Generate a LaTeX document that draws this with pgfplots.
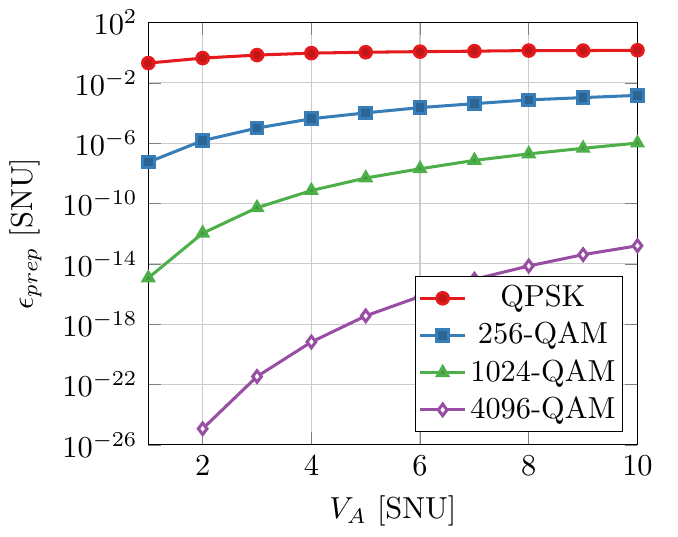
\documentclass[border=0pt]{standalone}
\usepackage{pgfplots}
\pgfplotsset{compat=1.18}
\definecolor{cred}{RGB}{228,26,28}
\definecolor{cblue}{RGB}{55,126,184}
\definecolor{cgreen}{RGB}{77,175,74}
\definecolor{cpurple}{RGB}{152,78,163}
\begin{document}
\begin{tikzpicture}
\begin{semilogyaxis}[
  scale only axis,
  width=161pt, height=139pt,
  xmin=1, xmax=10,
  ymin=1e-26, ymax=1e2,
  xtick={2,4,6,8,10},
  ytick={1e-26,1e-22,1e-18,1e-14,1e-10,1e-6,1e-2,1e2},
  grid=major,
  major grid style={gray!40},
  xlabel={$V_A$ [SNU]},
  ylabel={$\epsilon_{prep}$ [SNU]},
  legend pos=south east,
  legend cell align=center,
  legend style={inner sep=1pt, nodes={inner xsep=1.2pt, inner ysep=1.8pt}},
  every axis plot/.append style={line width=1pt, mark size=1.9pt,
    legend image code/.code={\draw[mark repeat=2,mark phase=2] plot coordinates {(0cm,0cm) (0.26cm,0cm) (0.52cm,0cm)};}},
]
\addplot[color=cred, mark=*, mark options={fill=cred!85!black}] coordinates {
(1,0.204) (2,0.437) (3,0.692) (4,0.933) (5,1.07) (6,1.17) (7,1.26) (8,1.38) (9,1.38) (10,1.45)};
\addlegendentry{QPSK}
\addplot[color=cblue, mark=square*, mark options={fill=cblue!80!black}] coordinates {
(1,5.5e-8) (2,1.48e-6) (3,1e-5) (4,4.17e-5) (5,1.02e-4) (6,2.29e-4) (7,4.17e-4) (8,7.41e-4) (9,1.05e-3) (10,1.48e-3)};
\addlegendentry{256-QAM}
\addplot[color=cgreen, mark=triangle*, mark options={fill=cgreen!85!black}] coordinates {
(1,1.17e-15) (2,1.07e-12) (3,5.25e-11) (4,7.24e-10) (5,4.9e-9) (6,2e-8) (7,7.24e-8) (8,1.95e-7) (9,4.57e-7) (10,1.02e-6)};
\addlegendentry{1024-QAM}
\addplot[color=cpurple, mark=diamond*, mark options={fill=white}] coordinates {
(2,1.17e-25) (3,3.39e-22) (4,6.6e-20) (5,3.55e-18) (6,6.9e-17) (7,9.5e-16) (8,7.24e-15) (9,4.07e-14) (10,1.58e-13)};
\addlegendentry{4096-QAM}
\end{semilogyaxis}
\path ([xshift=5pt]current bounding box.east);
\end{tikzpicture}
\end{document}
